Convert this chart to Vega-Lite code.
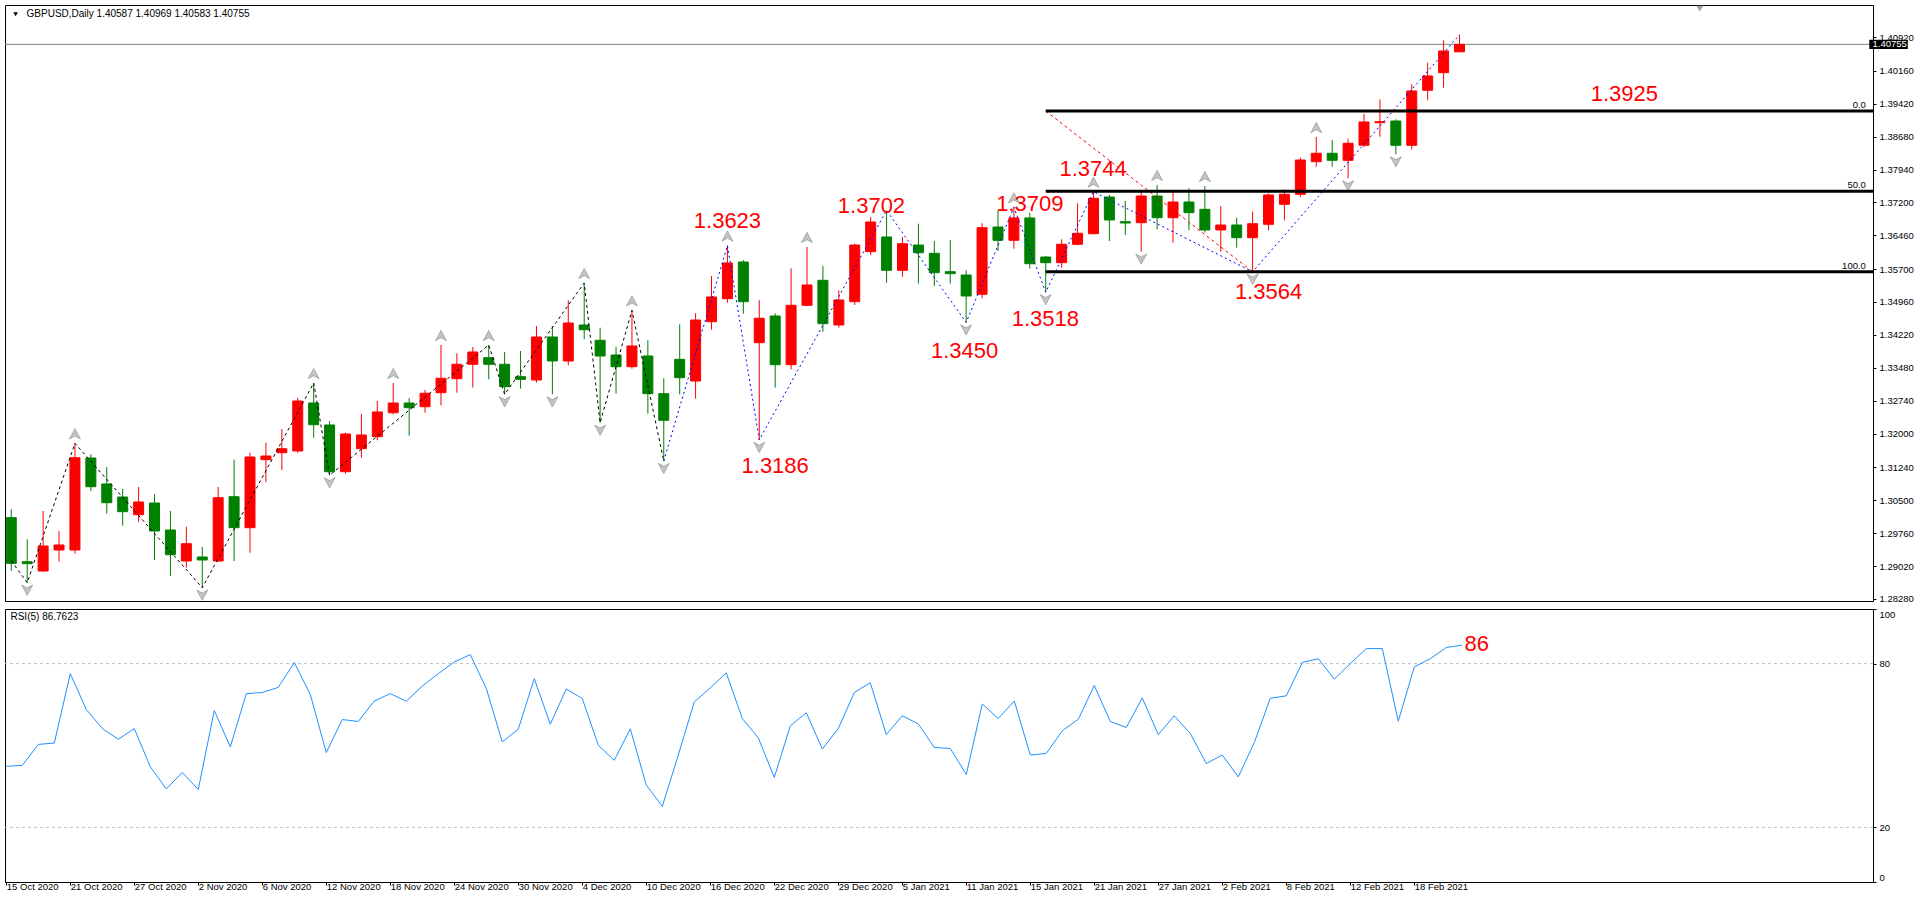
{
  "$schema": "https://vega.github.io/schema/vega-lite/v6.json",
  "background": "white",
  "padding": {"left": 4, "top": 4, "right": 0, "bottom": 0},
  "spacing": 4,
  "config": {
    "view": {"stroke": "black", "strokeWidth": 1},
    "axis": {"labelFont": "Liberation Sans", "labelFontSize": 9.5, "labelColor": "black", "tickColor": "black", "tickWidth": 1, "grid": false, "labelOverlap": false},
    "text": {"font": "Liberation Sans"}
  },
  "datasets": {
    "bars": [
      {"i":0,"d":"15 Oct 2020","o":1.30109,"h":1.30298,"l":1.2891,"c":1.29083,"rsi":42.4},
      {"i":1,"d":"16 Oct 2020","o":1.29119,"h":1.29623,"l":1.28647,"c":1.29074,"rsi":42.7},
      {"i":2,"d":"19 Oct 2020","o":1.2891,"h":1.30259,"l":1.2889,"c":1.29472,"rsi":50.4},
      {"i":3,"d":"20 Oct 2020","o":1.29382,"h":1.2981,"l":1.29119,"c":1.29495,"rsi":50.9},
      {"i":4,"d":"21 Oct 2020","o":1.29382,"h":1.31782,"l":1.29299,"c":1.31458,"rsi":76.3},
      {"i":5,"d":"22 Oct 2020","o":1.31451,"h":1.31535,"l":1.30709,"c":1.30806,"rsi":63.2},
      {"i":6,"d":"23 Oct 2020","o":1.30867,"h":1.31249,"l":1.30199,"c":1.30446,"rsi":56.2},
      {"i":7,"d":"26 Oct 2020","o":1.30574,"h":1.30754,"l":1.29929,"c":1.30244,"rsi":52.3},
      {"i":8,"d":"27 Oct 2020","o":1.30176,"h":1.30799,"l":1.30019,"c":1.30462,"rsi":56.2},
      {"i":9,"d":"28 Oct 2020","o":1.30439,"h":1.30635,"l":1.29157,"c":1.2981,"rsi":42.2},
      {"i":10,"d":"29 Oct 2020","o":1.29832,"h":1.30259,"l":1.28797,"c":1.29276,"rsi":34.1},
      {"i":11,"d":"30 Oct 2020","o":1.29135,"h":1.29906,"l":1.28984,"c":1.29524,"rsi":40.1},
      {"i":12,"d":"2 Nov 2020","o":1.29225,"h":1.2945,"l":1.28534,"c":1.29157,"rsi":33.9},
      {"i":13,"d":"3 Nov 2020","o":1.29135,"h":1.30799,"l":1.2911,"c":1.30558,"rsi":62.8},
      {"i":14,"d":"4 Nov 2020","o":1.30581,"h":1.31413,"l":1.29135,"c":1.29884,"rsi":49.5},
      {"i":15,"d":"5 Nov 2020","o":1.29884,"h":1.31571,"l":1.29321,"c":1.31474,"rsi":69.0},
      {"i":16,"d":"6 Nov 2020","o":1.31413,"h":1.31796,"l":1.30912,"c":1.31496,"rsi":69.4},
      {"i":17,"d":"9 Nov 2020","o":1.31571,"h":1.32104,"l":1.31181,"c":1.3166,"rsi":71.3},
      {"i":18,"d":"10 Nov 2020","o":1.31609,"h":1.32808,"l":1.31571,"c":1.32733,"rsi":80.4},
      {"i":19,"d":"11 Nov 2020","o":1.32688,"h":1.33138,"l":1.31908,"c":1.322,"rsi":68.7},
      {"i":20,"d":"12 Nov 2020","o":1.32194,"h":1.32284,"l":1.31062,"c":1.31143,"rsi":47.4},
      {"i":21,"d":"13 Nov 2020","o":1.31143,"h":1.3202,"l":1.31098,"c":1.31991,"rsi":59.5},
      {"i":22,"d":"16 Nov 2020","o":1.3166,"h":1.32448,"l":1.31458,"c":1.31969,"rsi":58.8},
      {"i":23,"d":"17 Nov 2020","o":1.3193,"h":1.32733,"l":1.3185,"c":1.32486,"rsi":66.3},
      {"i":24,"d":"18 Nov 2020","o":1.3247,"h":1.33138,"l":1.32434,"c":1.32688,"rsi":69.0},
      {"i":25,"d":"19 Nov 2020","o":1.32688,"h":1.32801,"l":1.31953,"c":1.32583,"rsi":66.2},
      {"i":26,"d":"20 Nov 2020","o":1.32605,"h":1.32981,"l":1.3247,"c":1.32907,"rsi":71.8},
      {"i":27,"d":"23 Nov 2020","o":1.3292,"h":1.33993,"l":1.32637,"c":1.33244,"rsi":76.3},
      {"i":28,"d":"24 Nov 2020","o":1.33235,"h":1.33806,"l":1.3292,"c":1.33559,"rsi":80.6},
      {"i":29,"d":"25 Nov 2020","o":1.33559,"h":1.33948,"l":1.33033,"c":1.33836,"rsi":83.3},
      {"i":30,"d":"26 Nov 2020","o":1.33707,"h":1.33993,"l":1.33221,"c":1.33559,"rsi":70.9},
      {"i":31,"d":"27 Nov 2020","o":1.33559,"h":1.33836,"l":1.32884,"c":1.33055,"rsi":51.3},
      {"i":32,"d":"30 Nov 2020","o":1.3328,"h":1.33858,"l":1.3301,"c":1.33221,"rsi":56.0},
      {"i":33,"d":"1 Dec 2020","o":1.33206,"h":1.3442,"l":1.33145,"c":1.34173,"rsi":74.5},
      {"i":34,"d":"2 Dec 2020","o":1.34173,"h":1.3442,"l":1.32884,"c":1.33633,"rsi":57.8},
      {"i":35,"d":"3 Dec 2020","o":1.33633,"h":1.34998,"l":1.33536,"c":1.34488,"rsi":70.7},
      {"i":36,"d":"4 Dec 2020","o":1.34443,"h":1.35387,"l":1.34121,"c":1.34337,"rsi":67.2},
      {"i":37,"d":"7 Dec 2020","o":1.34099,"h":1.34382,"l":1.32245,"c":1.33746,"rsi":50.1},
      {"i":38,"d":"8 Dec 2020","o":1.33768,"h":1.33955,"l":1.32898,"c":1.33505,"rsi":44.6},
      {"i":39,"d":"9 Dec 2020","o":1.33505,"h":1.34773,"l":1.3346,"c":1.33971,"rsi":56.1},
      {"i":40,"d":"10 Dec 2020","o":1.33746,"h":1.34099,"l":1.32448,"c":1.32898,"rsi":35.5},
      {"i":41,"d":"11 Dec 2020","o":1.32898,"h":1.33244,"l":1.31384,"c":1.32299,"rsi":27.7},
      {"i":42,"d":"14 Dec 2020","o":1.33671,"h":1.34459,"l":1.32884,"c":1.33258,"rsi":46.5},
      {"i":43,"d":"15 Dec 2020","o":1.33183,"h":1.34706,"l":1.32785,"c":1.34555,"rsi":66.0},
      {"i":44,"d":"16 Dec 2020","o":1.34517,"h":1.35545,"l":1.34337,"c":1.35073,"rsi":71.1},
      {"i":45,"d":"17 Dec 2020","o":1.35034,"h":1.3623,"l":1.34944,"c":1.35837,"rsi":76.6},
      {"i":46,"d":"18 Dec 2020","o":1.3586,"h":1.35898,"l":1.34697,"c":1.34967,"rsi":59.9},
      {"i":47,"d":"21 Dec 2020","o":1.34045,"h":1.35,"l":1.3186,"c":1.34594,"rsi":52.8},
      {"i":48,"d":"22 Dec 2020","o":1.34645,"h":1.34706,"l":1.33033,"c":1.3355,"rsi":38.3},
      {"i":49,"d":"23 Dec 2020","o":1.3355,"h":1.35718,"l":1.33446,"c":1.34886,"rsi":57.2},
      {"i":50,"d":"24 Dec 2020","o":1.34886,"h":1.36197,"l":1.3487,"c":1.35343,"rsi":62.0},
      {"i":51,"d":"28 Dec 2020","o":1.35448,"h":1.3577,"l":1.34292,"c":1.34472,"rsi":48.7},
      {"i":52,"d":"29 Dec 2020","o":1.34443,"h":1.35223,"l":1.34382,"c":1.35005,"rsi":56.2},
      {"i":53,"d":"30 Dec 2020","o":1.34967,"h":1.36271,"l":1.34893,"c":1.36242,"rsi":69.4},
      {"i":54,"d":"31 Dec 2020","o":1.36092,"h":1.36872,"l":1.36017,"c":1.3676,"rsi":73.0},
      {"i":55,"d":"4 Jan 2021","o":1.36422,"h":1.3702,"l":1.35394,"c":1.35673,"rsi":54.0},
      {"i":56,"d":"5 Jan 2021","o":1.35673,"h":1.36422,"l":1.35529,"c":1.36271,"rsi":60.9},
      {"i":57,"d":"6 Jan 2021","o":1.36242,"h":1.36721,"l":1.35372,"c":1.36069,"rsi":57.9},
      {"i":58,"d":"7 Jan 2021","o":1.36055,"h":1.36332,"l":1.3532,"c":1.35619,"rsi":49.3},
      {"i":59,"d":"8 Jan 2021","o":1.35642,"h":1.36355,"l":1.35372,"c":1.35597,"rsi":48.9},
      {"i":60,"d":"11 Jan 2021","o":1.35567,"h":1.35673,"l":1.345,"c":1.35095,"rsi":39.4},
      {"i":61,"d":"12 Jan 2021","o":1.35133,"h":1.3673,"l":1.35043,"c":1.36631,"rsi":65.2},
      {"i":62,"d":"13 Jan 2021","o":1.36647,"h":1.37007,"l":1.36107,"c":1.36348,"rsi":59.9},
      {"i":63,"d":"14 Jan 2021","o":1.36348,"h":1.3709,"l":1.36159,"c":1.3685,"rsi":66.3},
      {"i":64,"d":"15 Jan 2021","o":1.3685,"h":1.36969,"l":1.35709,"c":1.35822,"rsi":46.5},
      {"i":65,"d":"18 Jan 2021","o":1.35972,"h":1.35995,"l":1.3518,"c":1.35844,"rsi":47.1},
      {"i":66,"d":"19 Jan 2021","o":1.35844,"h":1.3637,"l":1.35732,"c":1.36258,"rsi":55.4},
      {"i":67,"d":"20 Jan 2021","o":1.36258,"h":1.3718,"l":1.36235,"c":1.36505,"rsi":59.6},
      {"i":68,"d":"21 Jan 2021","o":1.36496,"h":1.3744,"l":1.36483,"c":1.37293,"rsi":72.0},
      {"i":69,"d":"22 Jan 2021","o":1.37322,"h":1.37367,"l":1.36332,"c":1.36805,"rsi":58.8},
      {"i":70,"d":"25 Jan 2021","o":1.36766,"h":1.37232,"l":1.36467,"c":1.36737,"rsi":56.6},
      {"i":71,"d":"26 Jan 2021","o":1.36744,"h":1.37441,"l":1.36092,"c":1.37344,"rsi":67.4},
      {"i":72,"d":"27 Jan 2021","o":1.37344,"h":1.37592,"l":1.36595,"c":1.36856,"rsi":54.0},
      {"i":73,"d":"28 Jan 2021","o":1.36856,"h":1.37457,"l":1.36294,"c":1.37209,"rsi":60.9},
      {"i":74,"d":"29 Jan 2021","o":1.37209,"h":1.37518,"l":1.36573,"c":1.36969,"rsi":54.4},
      {"i":75,"d":"1 Feb 2021","o":1.37045,"h":1.37569,"l":1.36519,"c":1.3658,"rsi":43.4},
      {"i":76,"d":"2 Feb 2021","o":1.3658,"h":1.37119,"l":1.36092,"c":1.36692,"rsi":46.5},
      {"i":77,"d":"3 Feb 2021","o":1.36692,"h":1.36856,"l":1.36182,"c":1.36406,"rsi":38.5},
      {"i":78,"d":"4 Feb 2021","o":1.36406,"h":1.36991,"l":1.3564,"c":1.36721,"rsi":51.1},
      {"i":79,"d":"5 Feb 2021","o":1.36708,"h":1.37396,"l":1.36573,"c":1.37367,"rsi":67.3},
      {"i":80,"d":"8 Feb 2021","o":1.37158,"h":1.37495,"l":1.36798,"c":1.37383,"rsi":68.2},
      {"i":81,"d":"9 Feb 2021","o":1.37383,"h":1.38206,"l":1.37322,"c":1.38154,"rsi":80.4},
      {"i":82,"d":"10 Feb 2021","o":1.38116,"h":1.38671,"l":1.38003,"c":1.38305,"rsi":81.8},
      {"i":83,"d":"11 Feb 2021","o":1.38305,"h":1.38604,"l":1.38003,"c":1.38147,"rsi":74.3},
      {"i":84,"d":"12 Feb 2021","o":1.38147,"h":1.38633,"l":1.37742,"c":1.3853,"rsi":80.0},
      {"i":85,"d":"15 Feb 2021","o":1.38485,"h":1.39196,"l":1.38446,"c":1.39009,"rsi":85.5},
      {"i":86,"d":"16 Feb 2021","o":1.38993,"h":1.39519,"l":1.38678,"c":1.39016,"rsi":85.5},
      {"i":87,"d":"17 Feb 2021","o":1.39031,"h":1.39069,"l":1.38282,"c":1.38485,"rsi":58.9},
      {"i":88,"d":"18 Feb 2021","o":1.38485,"h":1.39857,"l":1.38395,"c":1.39706,"rsi":78.8},
      {"i":89,"d":"19 Feb 2021","o":1.39722,"h":1.40343,"l":1.39497,"c":1.40043,"rsi":81.8},
      {"i":90,"d":"22 Feb 2021","o":1.40118,"h":1.40846,"l":1.3978,"c":1.40606,"rsi":85.9},
      {"i":91,"d":"23 Feb 2021","o":1.40587,"h":1.40969,"l":1.40583,"c":1.40755,"rsi":86.7623}
    ],
    "zzBlack": [
      {"i":0,"p":1.2914},{"i":1,"p":1.28647},{"i":4,"p":1.31782},{"i":12,"p":1.28534},{"i":19,"p":1.33138},{"i":20,"p":1.31062},{"i":30,"p":1.33993},{"i":31,"p":1.32884},{"i":36,"p":1.35387},{"i":37,"p":1.32245},{"i":39,"p":1.34773},{"i":41,"p":1.31384}
    ],
    "zzBlue": [
      {"i":41,"p":1.31384},{"i":45,"p":1.3623},{"i":47,"p":1.3186},{"i":55,"p":1.3702},{"i":60,"p":1.345},{"i":63,"p":1.3709},{"i":65,"p":1.3518},{"i":68,"p":1.3744},{"i":78,"p":1.3564},{"i":91,"p":1.40969}
    ],
    "fractals": [
      {"i":4,"p":1.31782,"t":"up"},{"i":19,"p":1.33138,"t":"up"},{"i":24,"p":1.33138,"t":"up"},{"i":27,"p":1.33993,"t":"up"},{"i":30,"p":1.33993,"t":"up"},{"i":36,"p":1.35387,"t":"up"},{"i":39,"p":1.34773,"t":"up"},{"i":45,"p":1.3623,"t":"up"},{"i":50,"p":1.36197,"t":"up"},{"i":63,"p":1.3709,"t":"up"},{"i":68,"p":1.3744,"t":"up"},{"i":72,"p":1.37592,"t":"up"},{"i":75,"p":1.37569,"t":"up"},{"i":82,"p":1.38671,"t":"up"},
      {"i":1,"p":1.28647,"t":"down"},{"i":12,"p":1.28534,"t":"down"},{"i":20,"p":1.31062,"t":"down"},{"i":31,"p":1.32884,"t":"down"},{"i":34,"p":1.32884,"t":"down"},{"i":37,"p":1.32245,"t":"down"},{"i":41,"p":1.31384,"t":"down"},{"i":47,"p":1.3186,"t":"down"},{"i":60,"p":1.345,"t":"down"},{"i":65,"p":1.3518,"t":"down"},{"i":71,"p":1.36092,"t":"down"},{"i":78,"p":1.3564,"t":"down"},{"i":84,"p":1.37742,"t":"down"},{"i":87,"p":1.38282,"t":"down"}
    ],
    "fib": [
      {"lvl":"0.0","p":1.39256,"i0":65},
      {"lvl":"50.0","p":1.37449,"i0":65},
      {"lvl":"100.0","p":1.35642,"i0":65}
    ],
    "fibTrend": [{"i":65,"p":1.39256},{"i":78,"p":1.35642}],
    "notes": [
      {"i":45.0,"p":1.36771,"t":"1.3623"},
      {"i":54.05,"p":1.37108,"t":"1.3702"},
      {"i":48.0,"p":1.31265,"t":"1.3186"},
      {"i":59.9,"p":1.33858,"t":"1.3450"},
      {"i":64.0,"p":1.37158,"t":"1.3709"},
      {"i":67.98,"p":1.37945,"t":"1.3744"},
      {"i":64.98,"p":1.34578,"t":"1.3518"},
      {"i":79.0,"p":1.35178,"t":"1.3564"},
      {"i":101.36,"p":1.39638,"t":"1.3925"}
    ],
    "last": [{"p":1.40755,"label":"1.40755"}],
    "header": [{"t":"GBPUSD,Daily  1.40587 1.40969 1.40583 1.40755"}],
    "rsiLevels": [{"v":80},{"v":20}],
    "rsiHeader": [{"t":"RSI(5) 86.7623"}],
    "rsiNote": [{"i":91.9,"r":87.0,"t":"86"}]
  },
  "vconcat": [
    {
      "width": 1868,
      "height": 596,
      "layer": [
        {
          "data": {"name": "last"},
          "mark": {"type": "rule", "color": "#808080", "strokeWidth": 1},
          "encoding": {
            "y": {"field": "p", "type": "quantitative", "title": null,
              "scale": {"domain": [1.28235, 1.4164], "nice": false, "zero": false},
              "axis": {"orient": "right", "values": [1.2828, 1.2902, 1.2976, 1.305, 1.3124, 1.32, 1.3274, 1.3348, 1.3422, 1.3496, 1.357, 1.3646, 1.372, 1.3794, 1.3868, 1.3942, 1.4016, 1.4092],
                "tickCount": 60, "format": ".5f", "tickSize": 3, "labelPadding": 3, "domain": false, "grid": false, "title": null, "labelBaseline": "middle", "labelOverlap": false, "labelBound": false, "labelFlush": false}}
          }
        },
        {
          "data": {"name": "bars"},
          "mark": {"type": "rule", "strokeWidth": 1, "clip": true},
          "encoding": {
            "x": {"field": "i", "type": "quantitative", "scale": {"domain": [-0.081, 116.669], "nice": false, "zero": false}, "axis": null},
            "y": {"field": "l", "type": "quantitative", "title": null, "scale": {"domain": [1.28235, 1.4164], "nice": false, "zero": false}},
            "y2": {"field": "h"},
            "color": {"condition": {"test": "datum.c >= datum.o", "value": "#FF0000"}, "value": "#008000"}
          }
        },
        {
          "data": {"name": "bars"},
          "mark": {"type": "bar", "size": 10, "strokeWidth": 1, "clip": true},
          "encoding": {
            "x": {"field": "i", "type": "quantitative", "scale": {"domain": [-0.081, 116.669], "nice": false, "zero": false}, "axis": null},
            "y": {"field": "o", "type": "quantitative", "title": null, "scale": {"domain": [1.28235, 1.4164], "nice": false, "zero": false}},
            "y2": {"field": "c"},
            "color": {"condition": {"test": "datum.c >= datum.o", "value": "#FF0000"}, "value": "#008000"},
            "stroke": {"condition": {"test": "datum.c >= datum.o", "value": "#FF0000"}, "value": "#008000"}
          }
        },
        {
          "data": {"name": "zzBlack"},
          "mark": {"type": "line", "color": "black", "strokeWidth": 1, "strokeDash": [3, 3], "clip": true},
          "encoding": {
            "x": {"field": "i", "type": "quantitative", "scale": {"domain": [-0.081, 116.669], "nice": false, "zero": false}, "axis": null},
            "y": {"field": "p", "type": "quantitative", "title": null, "scale": {"domain": [1.28235, 1.4164], "nice": false, "zero": false}}
          }
        },
        {
          "data": {"name": "zzBlue"},
          "mark": {"type": "line", "color": "#0000FF", "strokeWidth": 1, "strokeDash": [2, 3], "clip": true},
          "encoding": {
            "x": {"field": "i", "type": "quantitative", "scale": {"domain": [-0.081, 116.669], "nice": false, "zero": false}, "axis": null},
            "y": {"field": "p", "type": "quantitative", "title": null, "scale": {"domain": [1.28235, 1.4164], "nice": false, "zero": false}}
          }
        },
        {
          "data": {"name": "fractals"},
          "transform": [{"filter": "datum.t === 'up'"}],
          "mark": {"type": "point", "filled": true, "shape": "M0,-0.7L0.75,0.7L0,0.3L-0.75,0.7Z", "size": 215, "fill": "#c4c4c4", "stroke": "#8a8a8a", "strokeWidth": 0.6, "opacity": 1, "yOffset": -9.5, "clip": true},
          "encoding": {
            "x": {"field": "i", "type": "quantitative", "scale": {"domain": [-0.081, 116.669], "nice": false, "zero": false}, "axis": null},
            "y": {"field": "p", "type": "quantitative", "title": null, "scale": {"domain": [1.28235, 1.4164], "nice": false, "zero": false}}
          }
        },
        {
          "data": {"name": "fractals"},
          "transform": [{"filter": "datum.t === 'down'"}],
          "mark": {"type": "point", "filled": true, "shape": "M0,0.7L0.75,-0.7L0,-0.3L-0.75,-0.7Z", "size": 215, "fill": "#c4c4c4", "stroke": "#8a8a8a", "strokeWidth": 0.6, "opacity": 1, "yOffset": 7.5, "clip": true},
          "encoding": {
            "x": {"field": "i", "type": "quantitative", "scale": {"domain": [-0.081, 116.669], "nice": false, "zero": false}, "axis": null},
            "y": {"field": "p", "type": "quantitative", "title": null, "scale": {"domain": [1.28235, 1.4164], "nice": false, "zero": false}}
          }
        },
        {
          "data": {"name": "fibTrend"},
          "mark": {"type": "line", "color": "#FF0000", "strokeWidth": 1, "strokeDash": [3, 3], "clip": true},
          "encoding": {
            "x": {"field": "i", "type": "quantitative", "scale": {"domain": [-0.081, 116.669], "nice": false, "zero": false}, "axis": null},
            "y": {"field": "p", "type": "quantitative", "title": null, "scale": {"domain": [1.28235, 1.4164], "nice": false, "zero": false}}
          }
        },
        {
          "data": {"name": "fib"},
          "mark": {"type": "rule", "color": "black", "strokeWidth": 3, "clip": true},
          "encoding": {
            "x": {"field": "i0", "type": "quantitative", "scale": {"domain": [-0.081, 116.669], "nice": false, "zero": false}, "axis": null},
            "x2": {"datum": 117},
            "y": {"field": "p", "type": "quantitative", "title": null, "scale": {"domain": [1.28235, 1.4164], "nice": false, "zero": false}}
          }
        },
        {
          "data": {"name": "fib"},
          "mark": {"type": "text", "align": "right", "baseline": "bottom", "dy": -1, "dx": -1, "fontSize": 9.5, "color": "black", "clip": true},
          "encoding": {
            "x": {"datum": 116.6, "type": "quantitative", "scale": {"domain": [-0.081, 116.669], "nice": false, "zero": false}, "axis": null},
            "y": {"field": "p", "type": "quantitative", "title": null, "scale": {"domain": [1.28235, 1.4164], "nice": false, "zero": false}},
            "text": {"field": "lvl"}
          }
        },
        {
          "data": {"name": "notes"},
          "mark": {"type": "text", "align": "center", "baseline": "middle", "fontSize": 22, "color": "#FF0000", "clip": true},
          "encoding": {
            "x": {"field": "i", "type": "quantitative", "scale": {"domain": [-0.081, 116.669], "nice": false, "zero": false}, "axis": null},
            "y": {"field": "p", "type": "quantitative", "title": null, "scale": {"domain": [1.28235, 1.4164], "nice": false, "zero": false}},
            "text": {"field": "t"}
          }
        },
        {
          "data": {"name": "header"},
          "mark": {"type": "text", "align": "left", "baseline": "middle", "fontSize": 10, "color": "black"},
          "encoding": {
            "x": {"datum": 0.96, "type": "quantitative", "scale": {"domain": [-0.081, 116.669], "nice": false, "zero": false}, "axis": null},
            "y": {"datum": 1.41431, "type": "quantitative", "title": null, "scale": {"domain": [1.28235, 1.4164], "nice": false, "zero": false}},
            "text": {"field": "t"}
          }
        },
        {
          "data": {"name": "header"},
          "mark": {"type": "point", "shape": "triangle-down", "filled": true, "size": 22, "color": "black", "opacity": 1},
          "encoding": {
            "x": {"datum": 0.27, "type": "quantitative", "scale": {"domain": [-0.081, 116.669], "nice": false, "zero": false}, "axis": null},
            "y": {"datum": 1.41431, "type": "quantitative", "title": null, "scale": {"domain": [1.28235, 1.4164], "nice": false, "zero": false}}
          }
        },
        {
          "data": {"name": "header"},
          "mark": {"type": "point", "shape": "triangle-down", "filled": true, "size": 45, "color": "#a0a0a0", "opacity": 1},
          "encoding": {
            "x": {"datum": 106.1, "type": "quantitative", "scale": {"domain": [-0.081, 116.669], "nice": false, "zero": false}, "axis": null},
            "y": {"datum": 1.4156, "type": "quantitative", "title": null, "scale": {"domain": [1.28235, 1.4164], "nice": false, "zero": false}}
          }
        },
        {
          "data": {"name": "last"},
          "mark": {"type": "rect", "color": "black", "clip": false},
          "encoding": {
            "x": {"datum": 116.75, "type": "quantitative", "scale": {"domain": [-0.081, 116.669], "nice": false, "zero": false}, "axis": null},
            "x2": {"datum": 119.17},
            "y": {"datum": 1.40649, "type": "quantitative", "title": null, "scale": {"domain": [1.28235, 1.4164], "nice": false, "zero": false}},
            "y2": {"datum": 1.40861}
          }
        },
        {
          "data": {"name": "last"},
          "mark": {"type": "text", "align": "left", "baseline": "middle", "fontSize": 9.5, "color": "white", "clip": false},
          "encoding": {
            "x": {"datum": 116.95, "type": "quantitative", "scale": {"domain": [-0.081, 116.669], "nice": false, "zero": false}, "axis": null},
            "y": {"field": "p", "type": "quantitative", "title": null, "scale": {"domain": [1.28235, 1.4164], "nice": false, "zero": false}},
            "text": {"field": "label"}
          }
        }
      ]
    },
    {
      "width": 1868,
      "height": 273,
      "layer": [
        {
          "data": {"name": "rsiLevels"},
          "mark": {"type": "rule", "color": "#c0c0c0", "strokeWidth": 1, "strokeDash": [3, 3]},
          "encoding": {
            "y": {"field": "v", "type": "quantitative", "title": null,
              "scale": {"domain": [0, 100], "nice": false, "zero": false},
              "axis": {"orient": "right", "values": [0, 20, 80, 100], "tickCount": 20, "tickSize": 3, "labelPadding": 3, "domain": false, "grid": false, "title": null, "labelFlush": true}}
          }
        },
        {
          "data": {"name": "bars"},
          "mark": {"type": "line", "color": "#1E90FF", "strokeWidth": 1, "clip": true},
          "encoding": {
            "x": {"field": "i", "type": "quantitative", "title": null, "scale": {"domain": [-0.081, 116.669], "nice": false, "zero": false},
              "axis": {"values": [0, 4, 8, 12, 16, 20, 24, 28, 32, 36, 40, 44, 48, 52, 56, 60, 64, 68, 72, 76, 80, 84, 88],
                "tickCount": 100,
                "labelExpr": "['15 Oct 2020','21 Oct 2020','27 Oct 2020','2 Nov 2020','6 Nov 2020','12 Nov 2020','18 Nov 2020','24 Nov 2020','30 Nov 2020','4 Dec 2020','10 Dec 2020','16 Dec 2020','22 Dec 2020','29 Dec 2020','5 Jan 2021','11 Jan 2021','15 Jan 2021','21 Jan 2021','27 Jan 2021','2 Feb 2021','8 Feb 2021','12 Feb 2021','18 Feb 2021'][round(datum.value/4)]",
                "labelAlign": "left", "labelBaseline": "middle", "labelDx": 2, "labelPadding": 1, "tickSize": 3, "domain": false, "grid": false, "title": null, "labelOverlap": false, "labelBound": false, "labelFlush": false}},
            "y": {"field": "rsi", "type": "quantitative", "title": null, "scale": {"domain": [0, 100], "nice": false, "zero": false}}
          }
        },
        {
          "data": {"name": "rsiHeader"},
          "mark": {"type": "text", "align": "left", "baseline": "middle", "fontSize": 10, "color": "black"},
          "encoding": {
            "x": {"datum": 0.26, "type": "quantitative", "title": null, "scale": {"domain": [-0.081, 116.669], "nice": false, "zero": false}},
            "y": {"datum": 96.9, "type": "quantitative", "title": null, "scale": {"domain": [0, 100], "nice": false, "zero": false}},
            "text": {"field": "t"}
          }
        },
        {
          "data": {"name": "rsiNote"},
          "mark": {"type": "text", "align": "center", "baseline": "middle", "fontSize": 22, "color": "#FF0000"},
          "encoding": {
            "x": {"field": "i", "type": "quantitative", "title": null, "scale": {"domain": [-0.081, 116.669], "nice": false, "zero": false}},
            "y": {"field": "r", "type": "quantitative", "title": null, "scale": {"domain": [0, 100], "nice": false, "zero": false}},
            "text": {"field": "t"}
          }
        }
      ]
    }
  ]
}
